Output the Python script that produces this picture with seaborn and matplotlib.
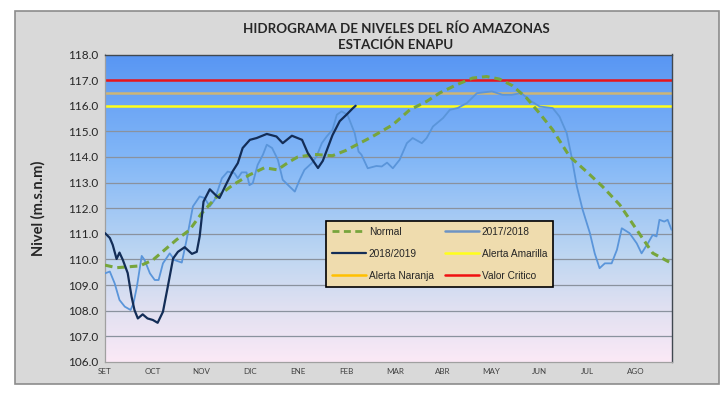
import numpy as np
import matplotlib
matplotlib.use("Agg")
from matplotlib import pyplot as plt
from matplotlib.colors import LinearSegmentedColormap
from matplotlib.lines import Line2D
from matplotlib.patches import Rectangle
import seaborn as sns

# x positions are in months since the start of September
months = ["SET", "OCT", "NOV", "DIC", "ENE", "FEB", "MAR", "ABR", "MAY", "JUN", "JUL", "AGO"]

normal_x = [0.0, 0.24, 0.72, 0.99, 1.48, 1.75, 2.0, 2.29, 2.64, 2.99, 3.3, 3.57, 3.82, 3.99,
            4.34, 4.71, 4.98, 5.54, 5.96, 6.31, 6.66, 6.93, 7.28, 7.61, 7.9, 8.17, 8.44,
            8.73, 9.0, 9.27, 9.62, 9.97, 10.3, 10.66, 11.01, 11.34, 11.73]
normal_y = [109.78, 109.68, 109.75, 109.98, 110.77, 111.15, 111.8, 112.4, 112.9, 113.3, 113.58,
            113.5, 113.82, 114.0, 114.1, 114.05, 114.25, 114.8, 115.26, 115.84, 116.17, 116.5,
            116.82, 117.08, 117.14, 117.04, 116.78, 116.3, 115.7, 115.06, 114.02, 113.43,
            112.85, 112.13, 111.16, 110.25, 109.85]

s1718_x = [0.0, 0.10, 0.20, 0.30, 0.41, 0.53, 0.59, 0.66, 0.76, 0.82, 0.93, 1.03, 1.11, 1.20,
           1.34, 1.44, 1.59, 1.69, 1.82, 1.96, 2.06, 2.17, 2.27, 2.42, 2.54, 2.68, 2.75, 2.83,
           2.93, 2.99, 3.06, 3.16, 3.27, 3.35, 3.46, 3.58, 3.68, 3.82, 3.93, 4.03, 4.13, 4.28,
           4.38, 4.49, 4.59, 4.71, 4.80, 4.90, 5.02, 5.17, 5.25, 5.31, 5.44, 5.62, 5.73, 5.84,
           5.96, 6.10, 6.25, 6.37, 6.56, 6.66, 6.79, 7.0, 7.14, 7.30, 7.49, 7.70, 8.01, 8.23,
           8.42, 8.62, 8.83, 9.0, 9.27, 9.41, 9.56, 9.66, 9.77, 9.89, 10.04, 10.14, 10.24,
           10.35, 10.49, 10.60, 10.70, 10.86, 11.01, 11.11, 11.24, 11.34, 11.42, 11.48, 11.58,
           11.65, 11.73]
s1718_y = [109.46, 109.53, 109.07, 108.42, 108.16, 108.03, 108.29, 108.94, 110.14, 109.98,
           109.46, 109.2, 109.2, 109.85, 110.24, 109.98, 109.88, 110.77, 112.07, 112.46, 112.4,
           112.07, 112.33, 113.17, 113.43, 113.37, 113.17, 113.4, 113.4, 112.9, 112.98, 113.69,
           114.09, 114.48, 114.35, 113.89, 113.11, 112.85, 112.65, 113.11, 113.5, 113.76,
           114.02, 114.54, 114.8, 115.06, 115.65, 115.78, 115.65, 114.93, 114.21, 114.09,
           113.56, 113.65, 113.63, 113.78, 113.56, 113.89, 114.54, 114.74, 114.54, 114.74,
           115.19, 115.52, 115.84, 115.91, 116.1, 116.49, 116.56, 116.43, 116.43, 116.49,
           116.17, 115.97, 115.91, 115.58, 114.93, 114.02, 112.85, 111.94, 111.03, 110.24,
           109.66, 109.85, 109.85, 110.38, 111.22, 111.03, 110.63, 110.24, 110.63, 110.96,
           110.9, 111.55, 111.48, 111.55, 111.16]

s1819_x = [0.0, 0.10, 0.16, 0.24, 0.30, 0.37, 0.47, 0.55, 0.61, 0.68, 0.78, 0.88, 0.99, 1.09,
           1.20, 1.30, 1.41, 1.51, 1.65, 1.80, 1.90, 1.96, 2.04, 2.17, 2.31, 2.37, 2.52, 2.64,
           2.75, 2.85, 3.0, 3.14, 3.35, 3.55, 3.68, 3.87, 4.08, 4.20, 4.41, 4.51, 4.61, 4.71,
           4.86, 5.0, 5.13, 5.19]
s1819_y = [111.03, 110.84, 110.57, 110.02, 110.27, 109.98, 109.47, 108.55, 108.03, 107.7,
           107.86, 107.7, 107.64, 107.53, 107.96, 108.94, 110.04, 110.3, 110.48, 110.22, 110.3,
           110.9, 112.26, 112.74, 112.48, 112.4, 112.98, 113.43, 113.76, 114.35, 114.67, 114.74,
           114.9, 114.8, 114.54, 114.83, 114.67, 114.15, 113.57, 113.85, 114.35, 114.85, 115.4,
           115.65, 115.9, 116.0]

alerta_amarilla = 116.0
alerta_naranja = 116.5
valor_critico = 117.0

x_end = 11.74

sns.set_style("white")
plt.rcParams["font.family"] = ["Lato", "DejaVu Sans"]

fig = plt.figure(figsize=(7.26, 3.97), dpi=100)
fig.patches.append(Rectangle((15 / 726, 13 / 397), 704 / 726, 373 / 397, transform=fig.transFigure,
                             facecolor="#d9d9d9", edgecolor="#8c8c8c", linewidth=1.2, zorder=-10))
ax = fig.add_axes([105 / 726, 35 / 397, 567 / 726, 307.5 / 397])

# gradient background
cmap = LinearSegmentedColormap.from_list(
    "bg", [(0.0, "#fbe9f6"), (0.18, "#dfe0f1"), (0.35, "#bdd6f2"), (0.65, "#84b8f7"), (1.0, "#5896f3")])
grad = np.linspace(0, 1, 256).reshape(-1, 1)
ax.imshow(grad, extent=[0, x_end, 106, 118], origin="lower", aspect="auto", cmap=cmap, zorder=0)

for v in range(107, 118):
    ax.axhline(v, color="#8a929e", lw=0.9, zorder=1)

ax.axhline(alerta_amarilla, color="#ffff1a", lw=1.8, zorder=2)
ax.axhline(alerta_naranja, color="#cdb576", lw=1.8, zorder=2)
ax.axhline(valor_critico, color="#e8141c", lw=1.8, zorder=2)

sns.lineplot(x=s1718_x, y=s1718_y, ax=ax, color="#5a95da", lw=1.3, sort=False, estimator=None, zorder=3)
sns.lineplot(x=normal_x, y=normal_y, ax=ax, color="#77a53c", lw=2.2, sort=False, estimator=None,
             zorder=4, dashes=False, linestyle=(0, (2.5, 1.6)))
sns.lineplot(x=s1819_x, y=s1819_y, ax=ax, color="#132d57", lw=1.6, sort=False, estimator=None, zorder=5)

ax.set_xlim(0, x_end)
ax.set_ylim(106, 118)
ax.set_yticks(np.arange(106, 118.5, 1))
ax.set_yticklabels([f"{v:.1f}" for v in np.arange(106, 118.5, 1)], fontsize=8.5, color="#262626")
ax.set_xticks(range(12))
ax.set_xticklabels(months, fontsize=5.8, color="#404040")
ax.set_xticks(np.arange(0.5, 12, 1), minor=True)
ax.tick_params(axis="x", which="both", direction="in", length=3, color="#8c8c8c", pad=4)
ax.tick_params(axis="y", length=0, pad=5)

for side in ["left", "bottom"]:
    ax.spines[side].set_color("#a0a0a0")
    ax.spines[side].set_linewidth(0.9)
for side in ["top", "right"]:
    ax.spines[side].set_color("#404850")
    ax.spines[side].set_linewidth(1.0)

ax.set_ylabel("Nivel (m.s.n.m)", fontsize=10.5, fontweight="bold", labelpad=16)
ax.set_xlabel("")
fig.text(396 / 726, 1 - 37 / 397, "HIDROGRAMA DE NIVELES DEL RÍO AMAZONAS\nESTACIÓN ENAPU",
         ha="center", va="center", fontsize=9.6, fontweight="bold", linespacing=1.3)

handles = [
    Line2D([], [], color="#77a53c", lw=2.0, linestyle=(0, (2.5, 1.6))),
    Line2D([], [], color="#132d57", lw=1.6),
    Line2D([], [], color="#ffc000", lw=1.8),
    Line2D([], [], color="#6d93c4", lw=1.8),
    Line2D([], [], color="#ffff1a", lw=1.8),
    Line2D([], [], color="#f01010", lw=1.8),
]
labels = ["Normal", "2018/2019", "Alerta Naranja", "2017/2018", "Alerta Amarilla", "Valor Critico"]
leg = ax.legend(handles, labels, ncol=2, loc="upper left", bbox_to_anchor=(0.389, 0.46),
                frameon=True, fancybox=False, handlelength=3.4, handletextpad=0.25,
                columnspacing=1.1, labelspacing=1.2, borderpad=0.6, borderaxespad=0,
                prop={"family": ["Liberation Sans Narrow", "Liberation Sans"], "size": 7.3})
leg.get_frame().set_facecolor("#efdcae")
leg.get_frame().set_edgecolor("black")
leg.get_frame().set_linewidth(1.2)
leg.get_frame().set_alpha(1)
leg.set_zorder(10)

fig.savefig("out.png", dpi=100)
